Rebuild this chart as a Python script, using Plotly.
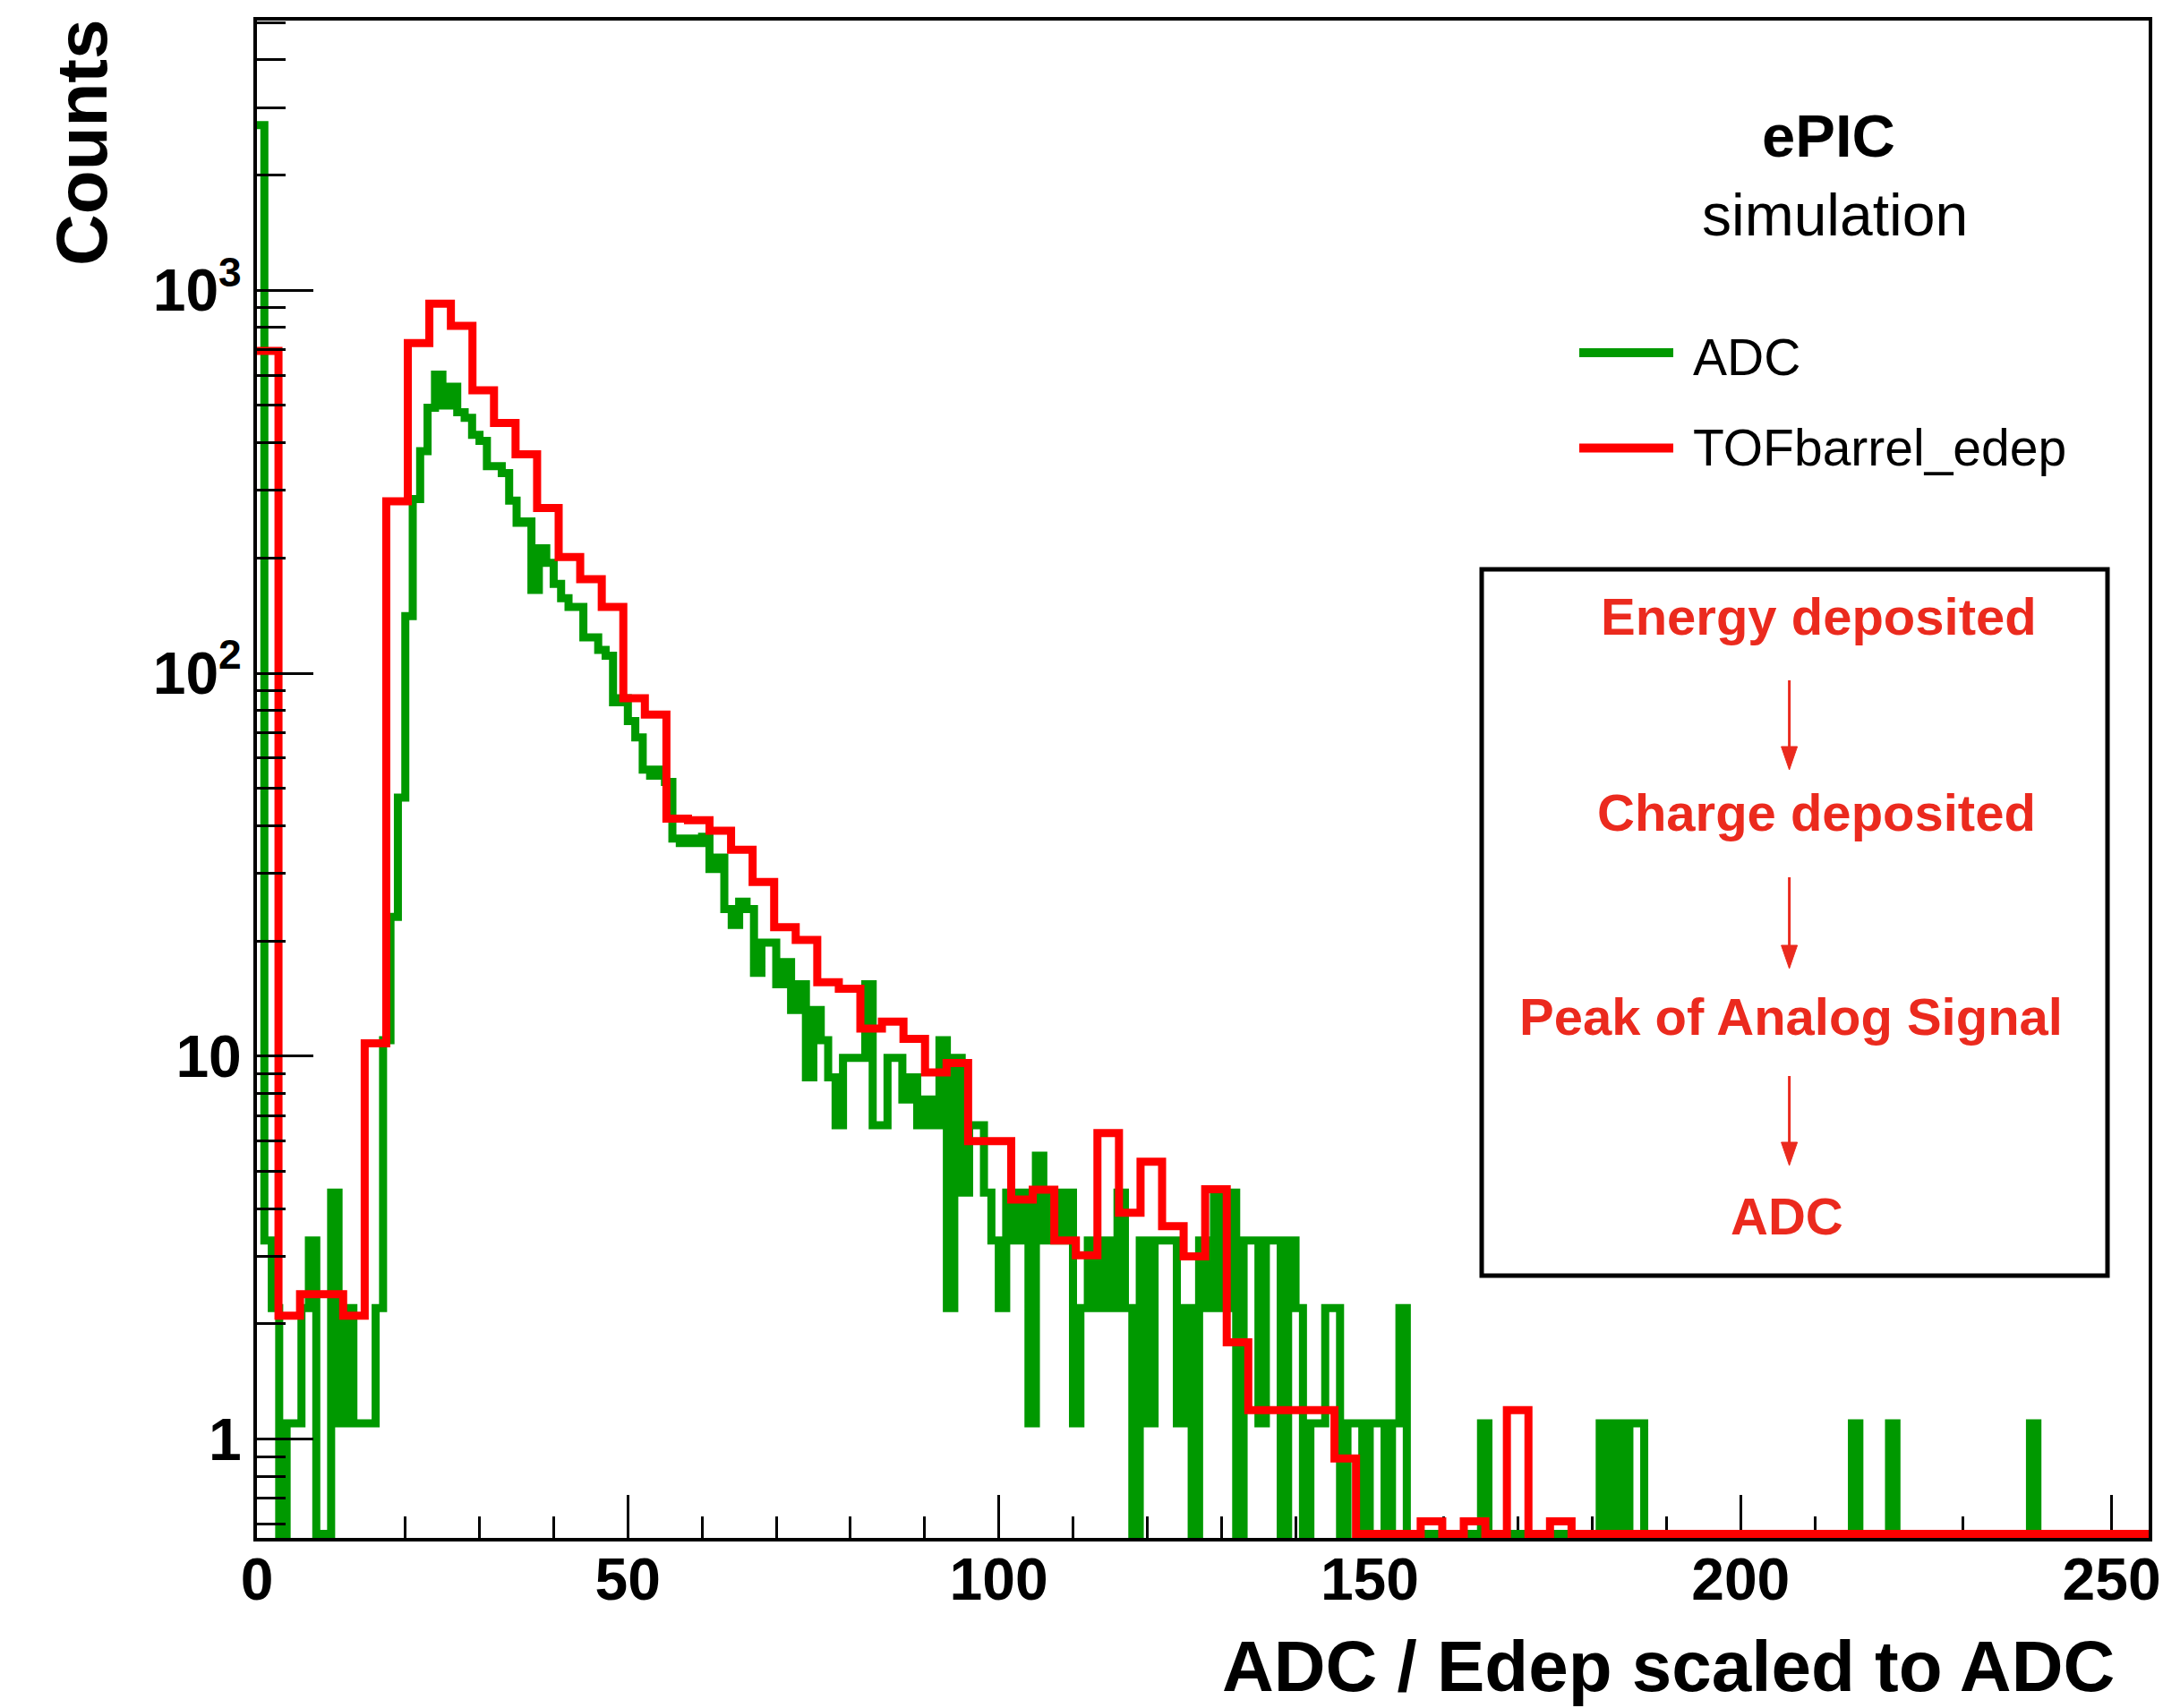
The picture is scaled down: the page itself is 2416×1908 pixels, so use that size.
import plotly.graph_objects as go

# ---------------- data ----------------
adc_bin_width = 1.0
adc_counts = [
    2700, 3.3, 2.2, 0, 1.1, 1.1, 2.2, 3.3, 0, 0,
    4.4, 1.1, 2.2, 1.1, 1.1, 1.1, 2.2, 11, 23.1, 47.3,
    141, 285, 380, 493, 602, 500, 560, 480, 464, 419,
    404, 347, 347, 333, 282, 247, 249, 165, 212, 194,
    171, 157, 149, 149, 124, 124, 115, 111, 84, 86,
    75, 68, 56, 54, 56, 52, 37, 36, 37, 36,
    37.4, 30.8, 33, 24.2, 22, 25.3, 24.2, 16.5, 19.8, 19.8,
    15.4, 17.6, 13.2, 15.4, 8.8, 13.2, 11, 8.8, 6.6, 9.9,
    9.9, 9.9, 15.4, 6.6, 6.6, 9.9, 9.9, 7.7, 8.8, 6.6,
    7.7, 6.6, 11, 2.2, 9.9, 4.4, 6.6, 6.6, 4.4, 3.3,
    2.2, 4.4, 3.3, 4.4, 1.1, 5.5, 3.3, 4.4, 3.3, 4.4,
    1.1, 2.2, 3.3, 2.2, 3.3, 2.2, 4.4, 2.2, 0, 3.3,
    1.1, 3.3, 3.3, 3.3, 1.1, 2.2, 0, 3.3, 2.2, 4.4,
    2.2, 4.4, 0, 3.3, 3.3, 1.1, 3.3, 3.3, 0, 3.3,
    2.2, 0, 1.1, 1.1, 2.2, 2.2, 0, 1.1, 1.1, 0,
    1.1, 1.1, 0, 1.1, 2.2, 0, 0, 0, 0, 0,
    0, 0, 0, 0, 0, 1.1, 0, 0, 0, 0,
    0, 0, 0, 0, 0, 0, 0, 0, 0, 0,
    0, 1.1, 0, 1.1, 0, 1.1, 1.1, 0, 0, 0,
    0, 0, 0, 0, 0, 0, 0, 0, 0, 0,
    0, 0, 0, 0, 0, 0, 0, 0, 0, 0,
    0, 0, 0, 0, 0, 1.1, 0, 0, 0, 0,
    1.1, 0, 0, 0, 0, 0, 0, 0, 0, 0,
    0, 0, 0, 0, 0, 0, 0, 0, 0, 1.1,
    0, 0, 0, 0, 0, 0, 0, 0, 0, 0,
    0, 0, 0, 0, 0,
]

edep_bin_width = 2.905
edep_counts = [
    694, 2.1, 2.39, 2.39, 2.1, 10.8, 281, 728, 922, 807,
    548, 450, 373, 270, 201, 176, 149, 86, 78, 41.7,
    41.3, 38.8, 34.6, 28.5, 21.7, 20.1, 15.6, 15.0, 11.8, 12.3,
    11.1, 9.07, 9.6, 6.0, 6.0, 4.22, 4.48, 3.3, 3.02, 6.3,
    3.9, 5.3, 3.6, 3.0, 4.49, 1.79, 1.19, 1.19, 1.19, 1.19,
    0.89, 0, 0, 0, 0.61, 0, 0.61, 0, 1.19, 0,
    0.61, 0, 0, 0, 0, 0, 0, 0, 0, 0,
    0, 0, 0, 0, 0, 0, 0, 0, 0, 0,
    0, 0, 0, 0, 0, 0, 0, 0,
]

series_names = ["ADC", "TOFbarrel_edep"]
series_colors = ["#009900", "#FF0000"]

x_range = [0, 255]
y_log_range = [-0.258, 3.704]
x_tick_vals = [0, 50, 100, 150, 200, 250]
y_tick_vals = [1, 10, 100, 1000]
y_tick_text = ["1", "10", "10<sup>2</sup>", "10<sup>3</sup>"]
y_minor_vals = [0.6, 0.7, 0.8, 0.9,
                2, 3, 4, 5, 6, 7, 8, 9,
                20, 30, 40, 50, 60, 70, 80, 90,
                200, 300, 400, 500, 600, 700, 800, 900,
                2000, 3000, 4000, 5000]

x_title = "ADC / Edep scaled to ADC"
y_title = "Counts"
header_lines = ["ePIC", "simulation"]
flow_steps = ["Energy deposited", "Charge deposited", "Peak of Analog Signal", "ADC"]
flow_color = "#EB2A1E"

# ---------------- geometry (pixels) ----------------
W, H = 2416, 1908
L, R, T, B = 287, 16, 23, 190
PW, PH = W - L - R, H - T - B


def px(x):
    return (x - L) / PW


def py(y):
    return (H - B - y) / PH


# zero bins are drawn at the bottom edge of the frame (ROOT style)
zero_floor = 10 ** (y_log_range[0] + 4.5 / (PH / (y_log_range[1] - y_log_range[0])))


def step_xy(counts, width):
    xs, ys = [], []
    for i, c in enumerate(counts):
        xs.append(i * width)
        ys.append(c if c > 0 else zero_floor)
    xs.append(len(counts) * width)
    ys.append(ys[-1])
    return xs, ys


fig = go.Figure()
for counts, width, name, color in [
    (adc_counts, adc_bin_width, series_names[0], series_colors[0]),
    (edep_counts, edep_bin_width, series_names[1], series_colors[1]),
]:
    xs, ys = step_xy(counts, width)
    fig.add_trace(go.Scatter(x=xs, y=ys, mode="lines", name=name,
                             line=dict(color=color, width=9, shape="hv"),
                             showlegend=False, hoverinfo="skip"))

FAM = "Liberation Sans, Arial, Helvetica, sans-serif"
BOLD = dict(family=FAM, weight="bold", color="black")
REG = dict(family=FAM, color="black")
FLOW = dict(family=FAM, weight="bold", color=flow_color)

fig.update_layout(
    width=W, height=H,
    margin=dict(l=L, r=R, t=T, b=B, pad=0, autoexpand=False),
    paper_bgcolor="white", plot_bgcolor="white",
    showlegend=False,
    xaxis=dict(range=x_range, tickvals=x_tick_vals, ticks="inside", ticklen=48, tickwidth=3,
               tickcolor="black", showline=True, linewidth=4, linecolor="black", mirror=True,
               showgrid=False, zeroline=False, layer="below traces", automargin=False,
               ticklabelstandoff=-14,
               tickfont=dict(size=66, **BOLD),
               minor=dict(dtick=10, tick0=0, ticks="inside", ticklen=24, tickwidth=3,
                          tickcolor="black", showgrid=False)),
    yaxis=dict(type="log", range=y_log_range, tickmode="array", tickvals=y_tick_vals,
               ticktext=y_tick_text, ticks="inside", ticklen=63, tickwidth=3, tickcolor="black",
               showline=True, linewidth=4, linecolor="black", mirror=True, showgrid=False,
               zeroline=False, automargin=False, tickfont=dict(size=66, **BOLD),
               minor=dict(tickmode="array", tickvals=y_minor_vals, ticks="inside", ticklen=32,
                          tickwidth=3, tickcolor="black", showgrid=False)),
)

ann = []
shapes = []
# axis titles
ann.append(dict(text=y_title, xref="paper", yref="paper", x=px(91), y=py(159), textangle=-90,
                showarrow=False, xanchor="center", yanchor="middle", font=dict(size=80, **BOLD)))
ann.append(dict(text=x_title, xref="paper", yref="paper", x=px(2364), y=py(1861),
                showarrow=False, xanchor="right", yanchor="middle", font=dict(size=80, **BOLD)))
# header
ann.append(dict(text=header_lines[0], xref="paper", yref="paper", x=px(2042), y=py(152),
                showarrow=False, xanchor="center", yanchor="middle", font=dict(size=67, **BOLD)))
ann.append(dict(text=header_lines[1], xref="paper", yref="paper", x=px(2049), y=py(240),
                showarrow=False, xanchor="center", yanchor="middle", font=dict(size=66, **REG)))
# legend
legend_rows = [(394, 399), (500.5, 500)]
for (ly, ty), name, color in zip(legend_rows, series_names, series_colors):
    shapes.append(dict(type="line", xref="paper", yref="paper", x0=px(1764), x1=px(1869),
                       y0=py(ly), y1=py(ly), line=dict(color=color, width=10)))
    ann.append(dict(text=name, xref="paper", yref="paper", x=px(1889), y=py(ty),
                    showarrow=False, xanchor="left", yanchor="middle", font=dict(size=57, **REG)))
# flow box
shapes.append(dict(type="rect", xref="paper", yref="paper", x0=px(1655), x1=px(2354),
                   y0=py(1425), y1=py(636), line=dict(color="black", width=5)))
step_pos = [(2031, 688), (2029, 908), (2000, 1135), (1996, 1358)]
for (sx, sy), txt in zip(step_pos, flow_steps):
    ann.append(dict(text=txt, xref="paper", yref="paper", x=px(sx), y=py(sy), showarrow=False,
                    xanchor="center", yanchor="middle", font=dict(size=58, **FLOW)))
# arrows between the flow steps (line + filled head)
ax_x = 1998.6
for y0, y1 in [(760, 860), (980, 1082), (1202, 1302)]:
    shapes.append(dict(type="line", xref="paper", yref="paper", x0=px(ax_x), x1=px(ax_x),
                       y0=py(y0), y1=py(y1 - 18), line=dict(color=flow_color, width=3)))
    head = "M {a},{b} L {c},{d} L {e},{f} Z".format(
        a=px(ax_x), b=py(y1), c=px(ax_x - 9), d=py(y1 - 26), e=px(ax_x + 9), f=py(y1 - 26))
    shapes.append(dict(type="path", xref="paper", yref="paper", path=head,
                       fillcolor=flow_color, line=dict(color=flow_color, width=1)))

fig.update_layout(annotations=ann, shapes=shapes)
fig.write_html("out.html")
